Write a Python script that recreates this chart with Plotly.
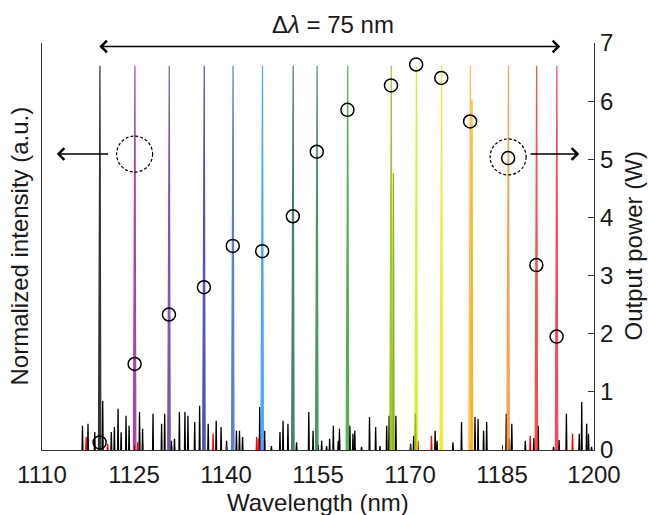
import plotly.graph_objects as go

# ---------------- data ----------------
peak_wl = [1119.4, 1125.1, 1130.7, 1136.4, 1141.1, 1145.9, 1150.9, 1154.8,
           1159.8, 1166.9, 1171.0, 1175.1, 1179.8, 1186.0, 1190.6, 1193.9]
peak_colors = ["#000000", "#8E1B8E", "#5B2C9A", "#2626A8", "#2F5FD0", "#1E90FF",
               "#1D5E4A", "#1F7A45", "#2E9A2E", "#8DB800", "#C8F000", "#F2E400",
               "#FFB020", "#FF8A20", "#FF2020", "#F0203A"]
power_w = [0.13, 1.48, 2.33, 2.80, 3.51, 3.42, 4.02, 5.13,
           5.85, 6.27, 6.63, 6.40, 5.65, 5.02, 3.18, 1.95]

# secondary shoulder features on some peaks
sub_wl = [1167.3, 1180.1]
sub_h = [0.72, 0.91]
sub_colors = ["#8DB800", "#FFB020"]

# background noise spikes (normalized intensity)
noise_wl = [1116.6, 1117.5, 1118.6, 1119.9, 1121.3, 1121.8, 1122.4, 1122.9, 1123.7, 1124.2,
            1125.9, 1126.4, 1128.1, 1129.5, 1130.0, 1131.1, 1131.6, 1132.4, 1133.3, 1133.8,
            1134.9, 1135.7, 1137.1, 1138.4, 1139.2, 1140.1, 1141.7, 1142.2, 1142.7, 1145.5,
            1146.3, 1147.4, 1148.8, 1149.3, 1150.1, 1151.5, 1153.5, 1154.2, 1155.6, 1156.4,
            1156.9, 1157.5, 1158.3, 1158.5, 1160.2, 1160.7, 1161.0, 1162.1, 1163.4, 1164.4,
            1165.1, 1166.2, 1166.6, 1167.7, 1170.1, 1170.6, 1170.9, 1174.1, 1174.4, 1177.0,
            1178.4, 1180.0, 1180.6, 1181.1, 1182.0, 1182.5, 1185.7, 1186.2, 1186.6, 1188.8,
            1190.2, 1190.9, 1193.4, 1194.3, 1195.5, 1197.6, 1198.0, 1198.8, 1199.1, 1199.6]
noise_h = [0.063, 0.068, 0.047, 0.128, 0.047, 0.060, 0.107, 0.046, 0.089, 0.063,
           0.099, 0.055, 0.094, 0.068, 0.094, 0.024, 0.029, 0.099, 0.099, 0.089,
           0.073, 0.115, 0.068, 0.076, 0.060, 0.024, 0.050, 0.050, 0.034, 0.112,
           0.050, 0.010, 0.047, 0.076, 0.068, 0.020, 0.099, 0.050, 0.024, 0.010,
           0.029, 0.063, 0.024, 0.055, 0.063, 0.042, 0.050, 0.008, 0.086, 0.060,
           0.010, 0.063, 0.089, 0.089, 0.016, 0.037, 0.094, 0.050, 0.024, 0.020,
           0.073, 0.024, 0.086, 0.081, 0.050, 0.073, 0.094, 0.029, 0.068, 0.024,
           0.031, 0.063, 0.008, 0.026, 0.094, 0.042, 0.125, 0.068, 0.042, 0.008]
red_wl = [1117.2, 1120.7, 1125.6, 1137.9, 1145.0, 1145.3, 1171.3, 1173.5, 1189.6, 1196.5]
red_h = [0.034, 0.016, 0.020, 0.042, 0.034, 0.030, 0.024, 0.037, 0.037, 0.042]

x_ticks = [1110, 1125, 1140, 1155, 1170, 1185, 1200]
y2_ticks = [0, 1, 2, 3, 4, 5, 6, 7]

FONT = "Arial, Liberation Sans, sans-serif"
FS = 24
fig = go.Figure()


def spikes(wls, hs, hw):
    xs, ys = [], []
    for w, h in zip(wls, hs):
        xs += [w - hw, w, w + hw, None]
        ys += [0, h, 0, None]
    return xs, ys


# noise
nx, ny = spikes(noise_wl, noise_h, 0.07)
fig.add_trace(go.Scatter(x=nx, y=ny, mode="lines", line=dict(color="black", width=1.3),
                         hoverinfo="skip", showlegend=False))
rx, ry = spikes(red_wl, red_h, 0.07)
fig.add_trace(go.Scatter(x=rx, y=ry, mode="lines", line=dict(color="red", width=1.3),
                         hoverinfo="skip", showlegend=False))

# laser peaks
for w, c in zip(peak_wl, peak_colors):
    fig.add_trace(go.Scatter(x=[w - 0.2, w - 0.05, w + 0.05, w + 0.2], y=[0, 1, 1, 0],
                             mode="lines", line=dict(color=c, width=1.2),
                             fill="toself", fillcolor=c, opacity=0.8,
                             hoverinfo="skip", showlegend=False))
for w, h, c in zip(sub_wl, sub_h, sub_colors):
    fig.add_trace(go.Scatter(x=[w - 0.1, w, w + 0.1], y=[0, h, 0], mode="lines",
                             line=dict(color=c, width=1.3), hoverinfo="skip", showlegend=False))

# output power circles
fig.add_trace(go.Scatter(x=peak_wl, y=power_w, yaxis="y2", mode="markers",
                         marker=dict(symbol="circle-open", size=13, color="black",
                                     line=dict(width=1.5, color="black")),
                         showlegend=False))

axis_col = "#333333"
fig.update_layout(
    width=648, height=515,
    margin=dict(l=42, r=54, t=43, b=65),
    paper_bgcolor="white", plot_bgcolor="white",
    font=dict(family=FONT, size=FS, color="#1a1a1a"),
    xaxis=dict(range=[1110, 1200], tickvals=x_ticks, ticks="inside", ticklen=5,
               tickcolor=axis_col, showline=True, linecolor=axis_col, linewidth=1.2,
               showgrid=False, zeroline=False, tickfont=dict(size=FS),
               ticklabelstandoff=3),
    yaxis=dict(range=[0, 1.059], showticklabels=False, ticks="", showline=True,
               linecolor=axis_col, linewidth=1.2, showgrid=False, zeroline=False),
    yaxis2=dict(range=[0, 7.0], overlaying="y", side="right", tickvals=y2_ticks,
                ticks="inside", ticklen=6, tickcolor=axis_col, showline=True,
                linecolor=axis_col, linewidth=1.2, showgrid=False, zeroline=False,
                tickfont=dict(size=FS)),
)

# axis titles as annotations
fig.add_annotation(text="Wavelength (nm)", xref="paper", yref="paper",
                   x=0.5, y=0, yshift=-52, yanchor="middle", showarrow=False,
                   font=dict(size=FS, family=FONT))
fig.add_annotation(text="Normalized intensity (a.u.)", xref="paper", yref="paper",
                   x=0, y=0.5, xshift=-23, xanchor="center", yanchor="middle",
                   textangle=-90, showarrow=False, font=dict(size=FS, family=FONT))
fig.add_annotation(text="Output power (W)", xref="paper", yref="paper",
                   x=1, y=0.5, xshift=39, xanchor="center", yanchor="middle",
                   textangle=-90, showarrow=False, font=dict(size=FS, family=FONT))

# Δλ label and double arrow
fig.add_annotation(text="Δ<i>λ</i> = 75 nm", xref="paper", yref="paper", x=0.527, y=1,
                   yshift=19, yanchor="middle", showarrow=False, font=dict(size=FS, family=FONT))
fig.add_annotation(x=1194.5, y=6.94, ax=1119.1, ay=6.94, xref="x", yref="y2",
                   axref="x", ayref="y2", text="", showarrow=True, arrowside="end+start",
                   arrowhead=4, startarrowhead=4, arrowsize=1.6, startarrowsize=1.6,
                   arrowwidth=1.4, arrowcolor="black")

# dashed circles + side arrows
for cx, cy in [(1125.1, 5.09), (1186.0, 5.04)]:
    fig.add_shape(type="circle", xref="x", yref="y2", xsizemode="pixel", ysizemode="pixel",
                  xanchor=cx, yanchor=cy, x0=-18, x1=18, y0=-18, y1=18,
                  line=dict(color="black", width=1.2, dash="3px,2px"))
fig.add_annotation(x=1112.4, y=5.09, ax=1121.0, ay=5.09, xref="x", yref="y2",
                   axref="x", ayref="y2", text="", showarrow=True, arrowhead=4,
                   arrowsize=1.6, arrowwidth=1.4, arrowcolor="black")
fig.add_annotation(x=1197.6, y=5.09, ax=1189.4, ay=5.09, xref="x", yref="y2",
                   axref="x", ayref="y2", text="", showarrow=True, arrowhead=4,
                   arrowsize=1.6, arrowwidth=1.4, arrowcolor="black")

fig.write_html("out.html")
